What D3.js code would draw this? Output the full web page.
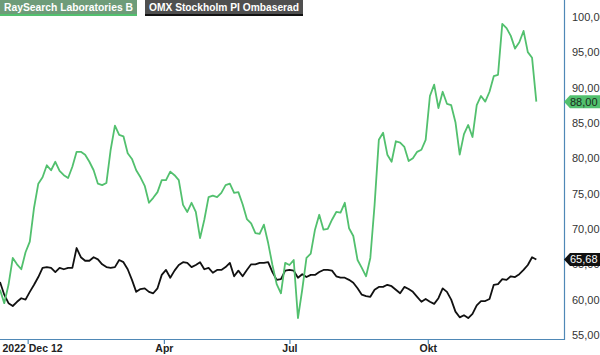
<!DOCTYPE html>
<html>
<head>
<meta charset="utf-8">
<script src="https://cdn.jsdelivr.net/npm/d3@7"></script>
<style>
  body { margin: 0; background: #fff; }
  svg { display: block; font-family: "Liberation Sans", Arial, sans-serif; }
</style>
</head>
<body>
<script>
//series names, as in the legend
var seriesNames = ["RaySearch Laboratories B", "OMX Stockholm PI Ombaserad"];

//one value every second trading day, starting 2022 Dec 12
var raySearch = [61.4, 59.5, 62.1, 65.9, 65.0, 64.3, 66.7, 68.2, 73.0, 76.4,
  77.3, 79.0, 78.3, 79.5, 78.2, 77.6, 77.2, 78.8, 80.9, 80.9,
  80.5, 79.5, 78.3, 76.4, 76.2, 76.5, 81.2, 84.6, 83.3, 83.1,
  80.7, 79.9, 78.3, 77.3, 76.1, 73.7, 74.4, 75.2, 76.9, 76.9,
  78.1, 77.6, 76.9, 73.4, 72.4, 73.7, 72.4, 68.7, 71.3, 74.5,
  74.7, 74.5, 75.1, 76.2, 76.4, 75.1, 75.2, 73.5, 71.4, 70.8,
  69.4, 69.3, 70.6, 68.0, 64.9, 62.2, 60.9, 65.2, 64.9, 65.6,
  57.4, 61.4, 65.9, 66.5, 69.9, 72.0, 69.9, 70.0, 71.3, 72.4,
  72.3, 73.7, 70.1, 69.0, 65.6, 64.5, 63.3, 65.9, 73.4, 82.6,
  83.6, 80.5, 79.5, 82.4, 82.2, 81.6, 79.6, 80.0, 80.9, 81.2,
  82.6, 88.8, 90.4, 87.1, 89.4, 87.7, 87.5, 85.1, 80.5, 83.4,
  84.7, 83.0, 87.5, 88.8, 88.0, 89.4, 91.6, 91.8, 99.0, 98.4,
  97.3, 95.5, 96.4, 98.0, 95.0, 94.2, 88.0];

var omx = [62.5, 60.7, 59.5, 59.1, 59.7, 60.2, 60.0, 61.1, 62.1, 63.2,
  64.5, 64.6, 64.5, 63.9, 64.5, 64.3, 64.5, 64.5, 67.3, 66.0,
  65.5, 65.5, 66.0, 65.7, 65.0, 64.6, 64.5, 64.6, 65.6, 65.3,
  64.3, 62.8, 61.1, 61.5, 61.6, 61.1, 60.9, 61.6, 63.5, 64.2,
  63.1, 64.1, 64.9, 65.3, 65.2, 64.6, 64.9, 65.3, 64.3, 64.5,
  63.8, 64.2, 64.2, 64.6, 65.2, 63.3, 64.1, 63.3, 64.2, 65.0,
  65.0, 65.2, 65.2, 65.3, 63.9, 62.8, 62.9, 64.1, 64.2, 64.1,
  63.1, 63.6, 63.2, 63.5, 63.5, 63.9, 64.2, 64.2, 64.1, 63.3,
  63.1, 63.1, 62.8, 62.4, 61.6, 60.7, 60.5, 60.4, 61.4, 61.8,
  61.8, 62.1, 61.9, 61.4, 60.9, 61.8, 61.5, 61.1, 60.4, 59.7,
  60.1, 59.7, 59.4, 60.2, 61.6, 61.1, 60.0, 58.3, 57.5, 57.8,
  57.4, 58.0, 59.2, 59.8, 59.8, 60.1, 62.1, 62.2, 62.9, 62.8,
  63.3, 63.2, 63.6, 64.2, 64.9, 66.0, 65.68];

//x axis labels and the trading day they sit on
var tickLabels = ["2022 Dec 12", "Apr", "Jul", "Okt"];
var tickDays = [13, 77, 136, 201];

//y axis ticks
var yTicks = [55, 60, 65, 70, 75, 80, 85, 90, 95, 100];

var dayStep = 2;

(function(){
  var width = 600,
      height = 355,
      plotRight = 564,
      plotBottom = 339;

  var green = "#52c06e",
      black = "#111111",
      frameColor = "#4f88b6";

  var sv = d3.formatLocale({decimal: ",", thousands: " ", grouping: [3], currency: ["", " kr"]});
  var fmt = sv.format(".2f");

  var svg = d3.select("body").append("svg")
    .attr("width", width)
    .attr("height", height);

  //trading day index scale
  var x = d3.scaleLinear()
    .domain([0, 265])
    .range([0, plotRight]);

  var y = d3.scaleLinear()
    .domain([55, 100])
    .range([335, 16.8]);

  //frame: bottom and right lines only
  svg.append("line")
    .attr("x1", 0).attr("x2", plotRight)
    .attr("y1", plotBottom + 0.5).attr("y2", plotBottom + 0.5)
    .attr("stroke", frameColor).attr("stroke-width", 1.2);
  svg.append("line")
    .attr("x1", plotRight + 0.5).attr("x2", plotRight + 0.5)
    .attr("y1", 0).attr("y2", plotBottom + 1)
    .attr("stroke", frameColor).attr("stroke-width", 1.2);

  //right axis labels
  var yAxis = d3.axisRight(y)
    .tickValues(yTicks)
    .tickSize(0)
    .tickPadding(0)
    .tickFormat(fmt);

  var ya = svg.append("g")
    .attr("transform", "translate(572,0)")
    .call(yAxis);
  ya.select(".domain").remove();
  ya.selectAll("text")
    .attr("fill", "#333")
    .style("font-size", "11px")
    .style("font-family", "'Liberation Sans', Arial, sans-serif");

  //bottom axis
  var xAxis = d3.axisBottom(x)
    .tickValues(tickDays)
    .tickSize(4)
    .tickPadding(1)
    .tickFormat(function(d, i){ return tickLabels[i]; });

  var xa = svg.append("g")
    .attr("transform", "translate(0," + (plotBottom + 1) + ")")
    .call(xAxis);
  xa.select(".domain").remove();
  xa.selectAll("line").attr("stroke", frameColor).attr("stroke-width", 1.2);
  xa.selectAll("text")
    .attr("fill", "#222")
    .style("font-size", "10.5px")
    .style("font-weight", "bold")
    .style("font-family", "'Liberation Sans', Arial, sans-serif");

  //keep the first label inside the left edge
  xa.selectAll("text").each(function(d, i){
    if (i == 0){
      var w = this.getComputedTextLength();
      var left = x(d) - w / 2;
      if (left < 2) d3.select(this).attr("dx", 2 - left);
    }
  });

  //lines
  var line = d3.line()
    .x(function(d, i){ return x(i * dayStep); })
    .y(function(d){ return y(d); });

  svg.append("path")
    .datum(omx)
    .attr("fill", "none")
    .attr("stroke", black)
    .attr("stroke-width", 1.8)
    .attr("stroke-linejoin", "round")
    .attr("d", line);

  svg.append("path")
    .datum(raySearch)
    .attr("fill", "none")
    .attr("stroke", green)
    .attr("stroke-width", 1.8)
    .attr("stroke-linejoin", "round")
    .attr("d", line);

  //last value tags on the right axis
  function tag(val, fill, textColor){
    var cy = y(val);
    var g = svg.append("g");
    g.append("path")
      .attr("d", "M" + plotRight + "," + cy +
        " L" + (plotRight + 6) + "," + (cy - 6.5) +
        " L" + width + "," + (cy - 6.5) +
        " L" + width + "," + (cy + 6.5) +
        " L" + (plotRight + 6) + "," + (cy + 6.5) + " Z")
      .attr("fill", fill);
    g.append("text")
      .attr("x", 570)
      .attr("y", cy + 4)
      .attr("fill", textColor)
      .style("font-size", "11px")
      .text(fmt(val));
  }
  tag(raySearch[raySearch.length - 1], green, "#1b2a1b");
  tag(omx[omx.length - 1], black, "#fff");

  //legend boxes
  var legend = [
    {name: seriesNames[0], x: 0, w: 137, bg: "#6e9c79", line: green},
    {name: seriesNames[1], x: 145, w: 158, bg: "#4f4f4f", line: black}
  ];
  var lg = svg.selectAll(".legend")
    .data(legend)
    .enter()
    .append("g")
    .attr("class", "legend");
  lg.append("rect")
    .attr("x", function(d){ return d.x; })
    .attr("y", 0)
    .attr("width", function(d){ return d.w; })
    .attr("height", 14)
    .attr("fill", function(d){ return d.bg; });
  lg.append("rect")
    .attr("x", function(d){ return d.x; })
    .attr("y", 14)
    .attr("width", function(d){ return d.w; })
    .attr("height", 2)
    .attr("fill", function(d){ return d.line; });
  lg.append("text")
    .attr("x", function(d){ return d.x + 4; })
    .attr("y", 11)
    .attr("fill", "#fff")
    .attr("textLength", function(d){ return d.w - 8; })
    .attr("lengthAdjust", "spacingAndGlyphs")
    .style("font-size", "10.5px")
    .style("font-weight", "bold")
    .text(function(d){ return d.name; });
})();
</script>
</body>
</html>
